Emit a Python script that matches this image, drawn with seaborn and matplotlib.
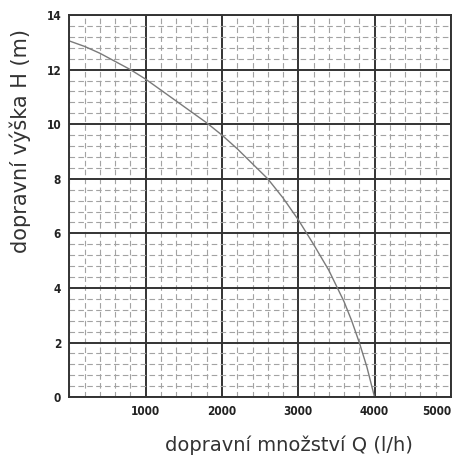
"""Pump characteristic curve: delivery head vs. flow rate."""

import matplotlib
matplotlib.use("Agg")
import matplotlib.pyplot as plt
from matplotlib.ticker import MultipleLocator
import seaborn as sns
import pandas as pd

# flow rate Q (l/h) and head H (m)
flow_q = [0, 200, 400, 600, 800, 1000, 1200, 1400, 1600, 1800, 2000, 2200,
          2400, 2600, 2800, 3000, 3200, 3400, 3600, 3700, 3800, 3900, 4000]
head_h = [13.05, 12.85, 12.6, 12.3, 12.0, 11.65, 11.25, 10.85, 10.45, 10.05,
          9.6, 9.1, 8.55, 8.0, 7.3, 6.5, 5.6, 4.65, 3.5, 2.8, 2.0, 1.1, 0.0]

x_ticks = [1000, 2000, 3000, 4000, 5000]
y_ticks = [0, 2, 4, 6, 8, 10, 12, 14]

x_label = "dopravní množství Q (l/h)"
y_label = "dopravní výška H (m)"


def main() -> None:
    sns.set_style("white")
    plt.rcParams["font.family"] = ["DejaVu Sans"]

    df = pd.DataFrame({"Q": flow_q, "H": head_h})

    fig = plt.figure(figsize=(4.54, 4.57), dpi=100)
    ax = fig.add_axes([0.153, 0.131, 0.840, 0.836])

    # minor dashed grid, then major solid grid
    ax.xaxis.set_minor_locator(MultipleLocator(200))
    ax.yaxis.set_minor_locator(MultipleLocator(0.4))
    ax.grid(which="minor", color="#a3a3a3", linestyle=(0, (5, 3)), linewidth=0.8)
    ax.grid(which="major", color="#333333", linestyle="-", linewidth=1.4)
    ax.set_axisbelow(True)

    sns.lineplot(data=df, x="Q", y="H", color="#7a7a7a", linewidth=1.0, ax=ax)

    ax.set_xlim(0, 5000)
    ax.set_ylim(0, 14)
    ax.set_xticks(x_ticks)
    ax.set_yticks(y_ticks)
    ax.set_xticklabels([str(t) for t in x_ticks])
    ax.set_yticklabels([str(t) for t in y_ticks])
    ax.tick_params(axis="x", which="both", length=0, pad=6)
    ax.tick_params(axis="y", which="both", length=0, pad=6)
    for lbl in ax.get_xticklabels() + ax.get_yticklabels():
        lbl.set_fontsize(8.5)
        lbl.set_fontweight("bold")
        lbl.set_fontstretch("condensed")
        lbl.set_color("#222222")
    ax.get_xticklabels()[-1].set_horizontalalignment("right")

    ax.set_xlabel(x_label, fontsize=14, color="#333333")
    ax.set_ylabel(y_label, fontsize=15, color="#333333")
    ax.xaxis.label.set_verticalalignment("center")
    ax.yaxis.label.set_verticalalignment("center")
    ax.xaxis.set_label_coords(0.575, -0.125)
    ax.yaxis.set_label_coords(-0.130, 0.670)

    for side in ["left", "bottom", "top", "right"]:
        ax.spines[side].set_visible(True)
        ax.spines[side].set_color("#333333")
        ax.spines[side].set_linewidth(1.4)

    fig.savefig("out.png", dpi=100)
    plt.close(fig)


if __name__ == "__main__":
    main()
